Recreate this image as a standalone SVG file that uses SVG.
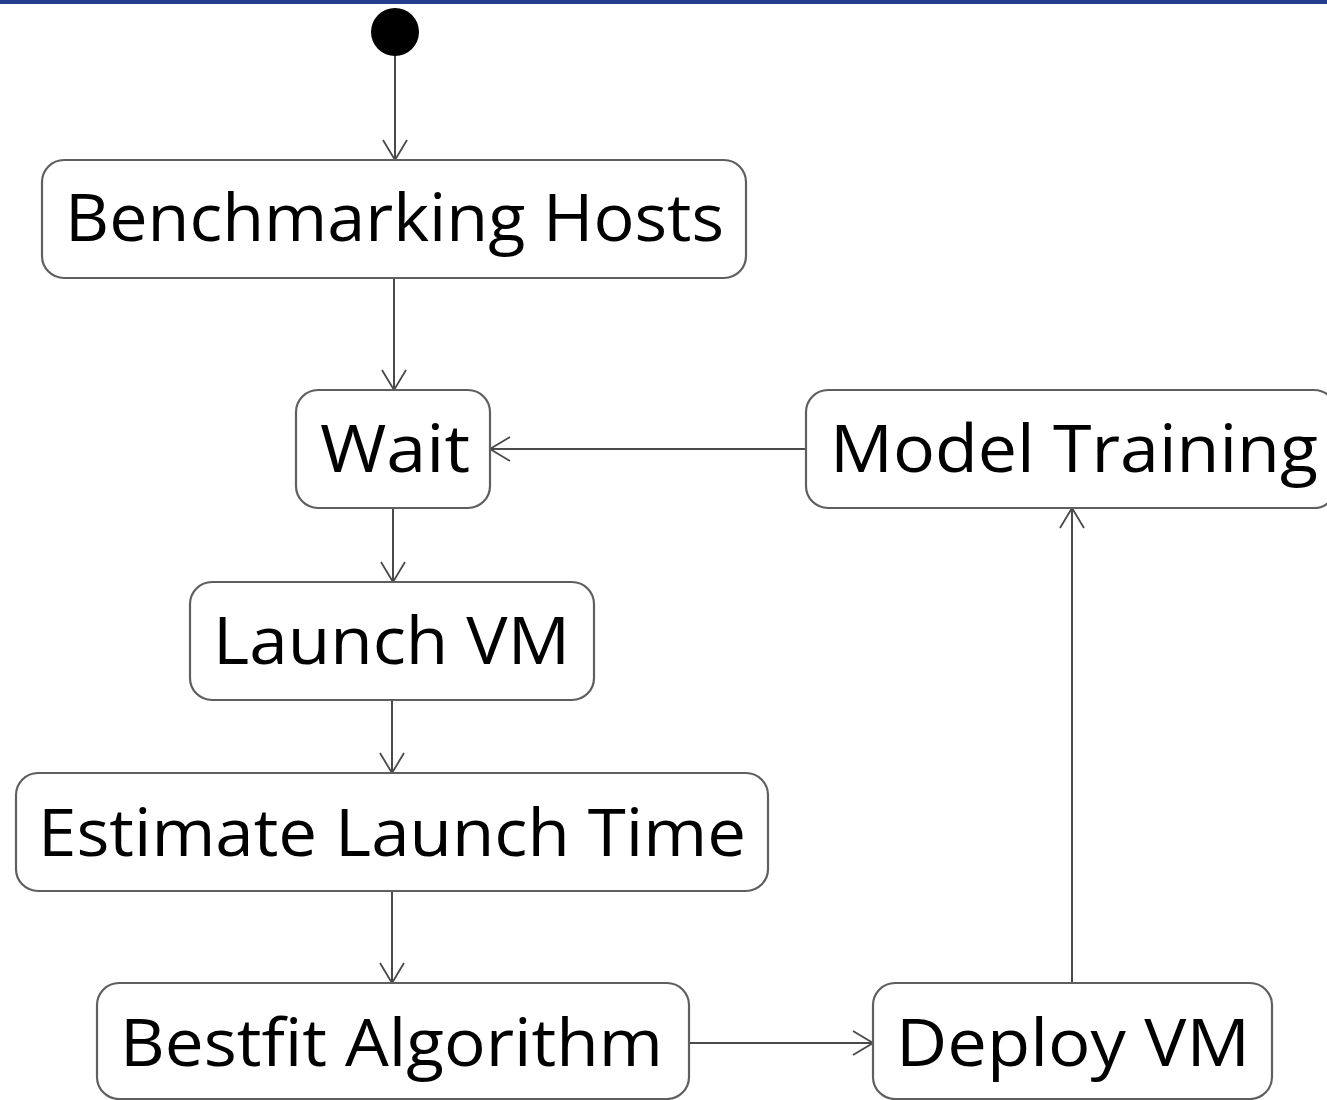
<svg xmlns="http://www.w3.org/2000/svg" width="1327" height="1100" viewBox="0 0 1327 1100">
  <defs>
    <style>
      .node rect { fill: #ffffff; stroke: #5f5f5f; stroke-width: 2.2; }
      .node text { font-family: "Open Sans", "Noto Sans", "Liberation Sans", sans-serif; font-size: 66px; fill: #000000; text-anchor: start; }
      .edge { stroke: #4a4a4a; stroke-width: 2; fill: none; marker-end: url(#open-arrow); }
    </style>
    <!-- open chevron arrowhead used by every transition -->
    <marker id="open-arrow" viewBox="0 0 22 26" refX="21" refY="13" markerWidth="22" markerHeight="26" markerUnits="userSpaceOnUse" orient="auto">
      <path d="M1,1 L21,13 L1,25" fill="none" stroke="#4a4a4a" stroke-width="1.8"/>
    </marker>
  </defs>

  <rect x="0" y="0" width="1327" height="1100" fill="#ffffff"/>
  <rect x="0" y="0" width="1327" height="4" fill="#233e8f"/>

  <g id="connectors">
    <line class="edge" x1="395" y1="56" x2="395" y2="160"/>
    <line class="edge" x1="394" y1="278" x2="394" y2="390"/>
    <line class="edge" x1="393" y1="508" x2="393" y2="582"/>
    <line class="edge" x1="392" y1="700" x2="392" y2="773"/>
    <line class="edge" x1="392" y1="891" x2="392" y2="983"/>
    <line class="edge" x1="689" y1="1043" x2="873" y2="1043"/>
    <line class="edge" x1="1072" y1="983" x2="1072" y2="508"/>
    <line class="edge" x1="806" y1="449" x2="490" y2="449"/>
  </g>

  <g id="start">
    <circle cx="395" cy="32" r="24" fill="#000000"/>
  </g>

  <g id="benchmarking-hosts" class="node">
    <rect x="42" y="160" width="704" height="118" rx="22"/>
    <text x="65" y="241" textLength="659" lengthAdjust="spacingAndGlyphs">Benchmarking Hosts</text>
  </g>

  <g id="wait" class="node">
    <rect x="296" y="390" width="194" height="118" rx="22"/>
    <text x="320" y="472" textLength="150" lengthAdjust="spacingAndGlyphs">Wait</text>
  </g>

  <g id="model-training" class="node">
    <rect x="806" y="390" width="530" height="118" rx="22"/>
    <text x="830" y="472" textLength="488" lengthAdjust="spacingAndGlyphs">Model Training</text>
  </g>

  <g id="launch-vm" class="node">
    <rect x="190" y="582" width="404" height="118" rx="22"/>
    <text x="213" y="664" textLength="357" lengthAdjust="spacingAndGlyphs">Launch VM</text>
  </g>

  <g id="estimate-launch-time" class="node">
    <rect x="16" y="773" width="752" height="118" rx="22"/>
    <text x="38" y="856" textLength="708" lengthAdjust="spacingAndGlyphs">Estimate Launch Time</text>
  </g>

  <g id="bestfit-algorithm" class="node">
    <rect x="97" y="983" width="592" height="116" rx="22"/>
    <text x="120" y="1066" textLength="543" lengthAdjust="spacingAndGlyphs">Bestfit Algorithm</text>
  </g>

  <g id="deploy-vm" class="node">
    <rect x="873" y="983" width="399" height="116" rx="22"/>
    <text x="896" y="1066" textLength="354" lengthAdjust="spacingAndGlyphs">Deploy VM</text>
  </g>
</svg>
